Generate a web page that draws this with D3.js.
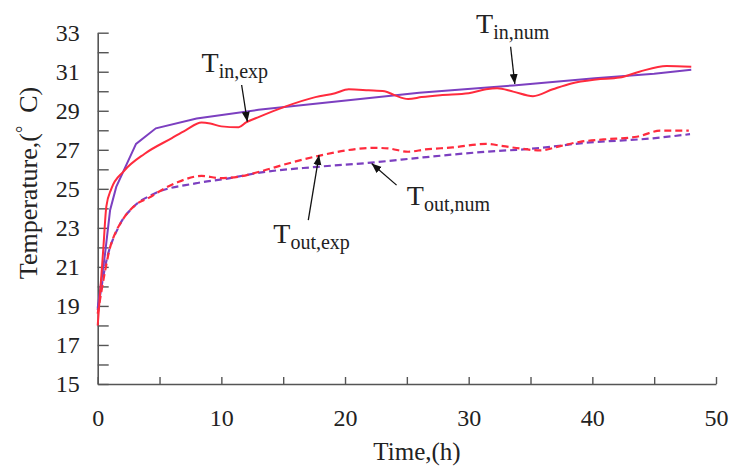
<!DOCTYPE html>
<html>
<head>
<meta charset="utf-8">
<script src="https://cdn.jsdelivr.net/npm/d3@7"></script>
<style>
  body { margin: 0; background: #fff; }
  text { font-family: "Liberation Serif", "Times New Roman", serif; fill: #222; }
</style>
</head>
<body>
<div id="chart"></div>
<script>
// measured series (time in h, temperature in deg C)
const inExpTime = [0, 0.45, 0.7, 1.1, 2.1, 3.8, 6.0, 7.1, 8.4, 9.1, 10.0, 11.4, 12.0, 13.1, 15.1, 17.6, 19.2, 20.3, 21.9, 23.2, 24.0, 25.1, 26.2, 27.7, 30.0, 31.4, 32.3, 33.6, 35.2, 36.8, 38.3, 40.3, 42.2, 43.8, 46.0, 48.0];
const inExpTemp = [18.0, 21.9, 24.1, 25.0, 25.9, 26.8, 27.6, 28.0, 28.4, 28.35, 28.2, 28.15, 28.4, 28.7, 29.2, 29.7, 29.9, 30.1, 30.05, 30.0, 29.8, 29.6, 29.7, 29.8, 29.9, 30.1, 30.15, 29.98, 29.75, 30.1, 30.4, 30.6, 30.7, 31.0, 31.3, 31.25];

const inNumTime = [0, 0.6, 1.0, 1.5, 3.1, 4.7, 8.0, 13.0, 26.0, 33.6, 40.2, 45.0, 48.0];
const inNumTemp = [18.9, 21.7, 23.9, 25.1, 27.3, 28.1, 28.6, 29.05, 29.92, 30.3, 30.66, 30.9, 31.1];

const outExpTime = [0, 0.6, 1.0, 1.3, 2.0, 3.1, 4.2, 4.8, 6.5, 8.4, 9.9, 11.4, 13.1, 15.4, 17.8, 20.3, 22.4, 23.5, 25.1, 26.5, 28.7, 31.4, 32.8, 34.1, 35.8, 37.4, 39.0, 40.9, 43.6, 45.5, 47.8];
const outExpTemp = [18.6, 20.8, 22.0, 22.55, 23.4, 24.2, 24.56, 24.8, 25.35, 25.66, 25.55, 25.62, 25.88, 26.3, 26.68, 26.99, 27.1, 27.07, 26.9, 27.02, 27.12, 27.3, 27.19, 27.07, 26.97, 27.19, 27.41, 27.53, 27.67, 27.98, 27.98];

const outNumTime = [0, 0.7, 1.7, 2.9, 4.4, 7.9, 10.6, 13.1, 17.8, 22.1, 26.3, 31.4, 35.0, 39.5, 44.9, 47.9];
const outNumTemp = [18.8, 21.3, 23.06, 24.08, 24.7, 25.28, 25.54, 25.83, 26.13, 26.34, 26.61, 26.9, 27.05, 27.36, 27.59, 27.8];

// tick values
const yTicks = d3.range(15, 34, 1);
const xTicks = d3.range(0, 51, 5);

// annotation labels: text anchor and arrow (tail -> head), in data units
const labelSub = ["in,exp", "in,num", "out,exp", "out,num"];
const labelPos = [[8.4, 31.0], [30.6, 32.97], [14.2, 22.22], [25.0, 24.17]];
const arrowFrom = [[11.64, 30.32], [33.39, 32.28], [17.03, 23.4], [24.17, 25.19]];
const arrowTo = [[12.1, 28.44], [33.73, 30.37], [17.9, 26.73], [22.15, 26.3]];

const W = 732, H = 468;
const red = "#ff2b3d", purple = "#7c3fc0";

const svg = d3.select("#chart").append("svg")
  .attr("width", W).attr("height", H);

const x = d3.scaleLinear().domain([0, 50]).range([97.7, 716]);
const y = d3.scaleLinear().domain([15, 33]).range([384, 32.7]);

svg.append("defs").append("marker")
  .attr("id", "head")
  .attr("viewBox", "0 0 10 10")
  .attr("refX", 10).attr("refY", 5)
  .attr("markerWidth", 10).attr("markerHeight", 10)
  .attr("markerUnits", "userSpaceOnUse")
  .attr("orient", "auto")
  .append("path").attr("d", "M0,1 L10,5 L0,9 Z").attr("fill", "#111");

// axes
const yAxis = d3.axisLeft(y)
  .tickValues(yTicks)
  .tickSizeInner(-11).tickSizeOuter(0).tickPadding(18)
  .tickFormat(d => d % 2 === 1 ? d : "");
const xAxis = d3.axisBottom(x)
  .tickValues(xTicks)
  .tickSizeInner(-7).tickSizeOuter(0).tickPadding(25)
  .tickFormat(d => d % 10 === 0 ? d : "");

const gy = svg.append("g").attr("transform", `translate(${x(0)},0)`).call(yAxis);
const gx = svg.append("g").attr("transform", `translate(0,${y(15)})`).call(xAxis);
[gx, gy].forEach(g => {
  g.select(".domain").attr("stroke", "#555").attr("stroke-width", 1.6);
  g.selectAll(".tick line").attr("stroke", "#555").attr("stroke-width", 1.4);
  g.selectAll(".tick text").attr("font-size", 24).attr("fill", "#222")
    .attr("font-family", "Liberation Serif, Times New Roman, serif");
});

// axis titles
svg.append("text")
  .attr("x", 417).attr("y", 460)
  .attr("text-anchor", "middle").attr("font-size", 25)
  .text("Time,(h)");
const yt = svg.append("text")
  .attr("transform", "translate(37,183) rotate(-90)")
  .attr("text-anchor", "middle").attr("font-size", 26);
yt.append("tspan").text("Temperature,(");
yt.append("tspan").attr("font-size", 18).attr("dy", -8).text("°");
yt.append("tspan").attr("dy", 8).text("\u2002C)");

// series
function series(ts, vs) { return ts.map((t, i) => [t, vs[i]]); }
const lineSmooth = d3.line().x(d => x(d[0])).y(d => y(d[1])).curve(d3.curveMonotoneX);
const lineStraight = d3.line().x(d => x(d[0])).y(d => y(d[1]));

svg.append("path").datum(series(outNumTime, outNumTemp))
  .attr("d", lineSmooth).attr("fill", "none")
  .attr("stroke", purple).attr("stroke-width", 2.2).attr("stroke-dasharray", "7,4");
svg.append("path").datum(series(outExpTime, outExpTemp))
  .attr("d", lineSmooth).attr("fill", "none")
  .attr("stroke", red).attr("stroke-width", 2.2).attr("stroke-dasharray", "7,4");
svg.append("path").datum(series(inNumTime, inNumTemp))
  .attr("d", lineStraight).attr("fill", "none")
  .attr("stroke", purple).attr("stroke-width", 2);
svg.append("path").datum(series(inExpTime, inExpTemp))
  .attr("d", lineSmooth).attr("fill", "none")
  .attr("stroke", red).attr("stroke-width", 2);

// annotations
labelSub.forEach((s, i) => {
  svg.append("line")
    .attr("x1", x(arrowFrom[i][0])).attr("y1", y(arrowFrom[i][1]))
    .attr("x2", x(arrowTo[i][0])).attr("y2", y(arrowTo[i][1]))
    .attr("stroke", "#111").attr("stroke-width", 1.3)
    .attr("marker-end", "url(#head)");
  const t = svg.append("text")
    .attr("x", x(labelPos[i][0])).attr("y", y(labelPos[i][1]))
    .attr("font-size", 28);
  t.append("tspan").text("T");
  t.append("tspan").attr("font-size", 20).attr("dy", 6).text(s);
});
</script>
</body>
</html>
